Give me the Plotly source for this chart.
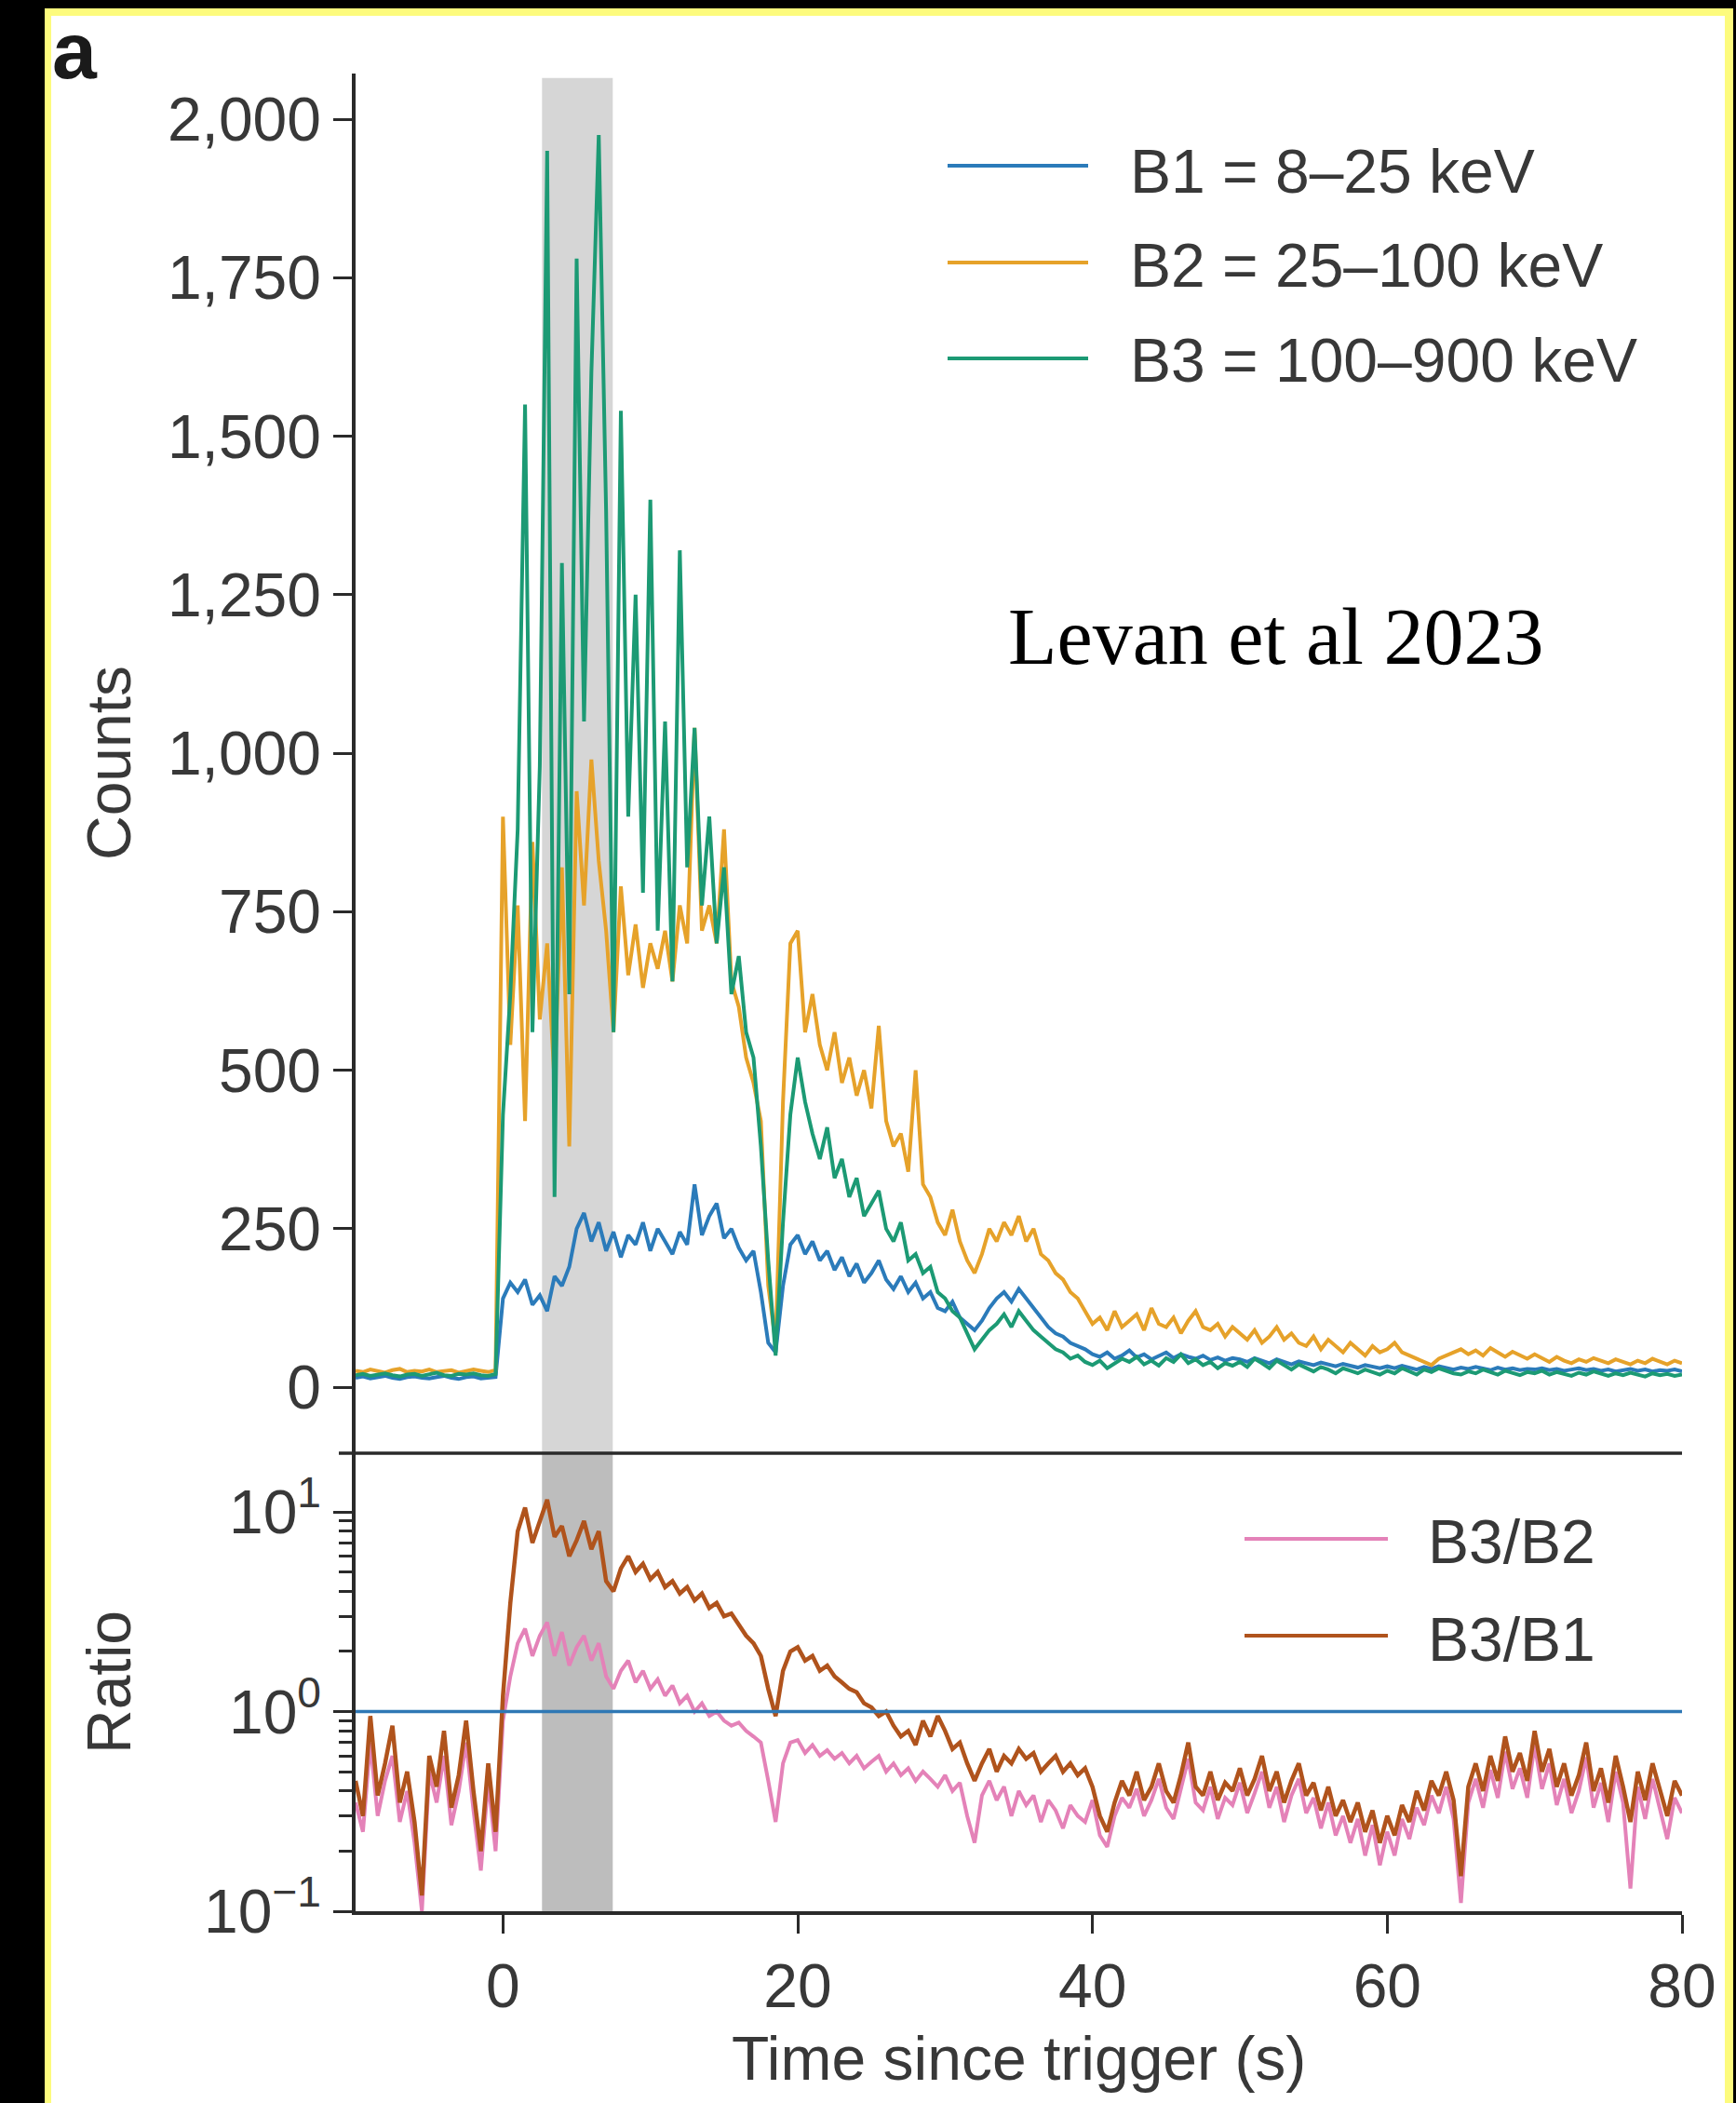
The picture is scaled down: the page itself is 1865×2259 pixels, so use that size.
import plotly.graph_objects as go

# ---------------------------------------------------------------------------
# Light curve binned at 0.5 s, from -10 s to 80 s after trigger
# ---------------------------------------------------------------------------
TIME = [round(-10 + 0.5 * i, 1) for i in range(181)]

# B1 = 8-25 keV counts
B1_COUNTS = [
    15, 17, 14, 16, 18, 15, 13, 16, 17, 15, 14, 16, 18, 15, 13, 16, 17, 14, 15, 16,          # -10 .. -0.5
    140, 165, 150, 170, 130, 145, 120, 175, 160, 190, 250, 275, 230, 260, 215, 245, 205, 240, 225, 260,  # 0 .. 9.5
    215, 250, 230, 210, 245, 225, 320, 240, 270, 290, 235, 250, 220, 200, 215, 150, 70, 55, 160, 225,    # 10 .. 19.5
    240, 210, 230, 200, 215, 185, 205, 175, 195, 165, 180, 200, 170, 155, 175, 150, 165, 140, 150, 125,  # 20 .. 29.5
    120, 135, 110, 100, 90, 105, 125, 140, 150, 135, 155, 140, 125, 110, 95, 85, 80, 70, 65, 60,         # 30 .. 39.5
    52, 48, 55, 45, 50, 58, 47, 52, 44, 50, 55, 46, 52, 48, 45, 50, 43, 47, 42, 46,                      # 40 .. 49.5
    44, 40, 46, 42, 38, 44, 40, 36, 41, 38, 35, 39, 36, 33, 37, 34, 31, 35, 32, 30,                      # 50 .. 59.5
    33, 30, 34, 31, 28, 32, 29, 33, 30, 28, 31, 29, 32, 30, 27, 31, 28, 30, 27, 29,                      # 60 .. 69.5
    28, 30, 27, 29, 26, 28, 30, 27, 29, 26, 28, 25, 27, 29, 26, 28, 25, 27, 26, 28, 25,                  # 70 .. 80
]

# B2 = 25-100 keV counts
B2_COUNTS = [
    26, 24, 28, 25, 23, 27, 29, 24, 26, 25, 28, 24, 26, 27, 23, 25, 28, 26, 24, 27,
    900, 540, 760, 420, 860, 580, 700, 480, 820, 380, 940, 760, 990, 830, 720, 560, 790, 650, 730, 630,
    700, 660, 720, 640, 760, 700, 1040, 720, 760, 700, 880, 640, 600, 520, 480, 420, 160, 70, 450, 700,
    720, 560, 620, 540, 500, 560, 480, 520, 460, 500, 440, 570, 420, 380, 400, 340, 500, 320, 300, 260,
    240, 280, 230, 200, 180, 210, 250, 230, 260, 240, 270, 230, 250, 210, 200, 180, 170, 150, 140, 120,
    100, 110, 90, 120, 95, 105, 115, 90, 125, 100, 95, 110, 85, 105, 120, 95, 90, 100, 80, 95,
    85, 75, 90, 70, 80, 95, 75, 85, 70, 65, 80, 60, 75, 65, 55, 70, 60, 50, 65, 55,
    60, 70, 55, 50, 45, 40, 35, 45, 50, 55, 60, 52, 58, 50, 62, 55, 48, 56, 50, 45,
    52, 46, 40, 48, 42, 38, 44, 40, 46, 42, 38, 44, 40, 36, 42, 38, 45, 40, 36, 42, 38,
]

# B3 = 100-900 keV counts
B3_COUNTS = [
    19, 21, 18, 20, 22, 19, 17, 20, 21, 18, 20, 23, 19, 18, 21, 20, 22, 19, 18, 21,
    430, 620, 880, 1550, 560, 980, 1950, 300, 1300, 620, 1780, 1050, 1600, 1975, 1380, 560, 1540, 900, 1250, 780,
    1400, 720, 1050, 640, 1320, 820, 1040, 760, 900, 700, 820, 620, 680, 560, 520, 380, 200, 50, 260, 430,
    520, 450, 400, 360, 410, 330, 360, 300, 330, 270, 290, 310, 250, 230, 260, 200, 210, 180, 190, 150,
    140, 120, 110, 85, 60, 75, 90, 100, 115, 95, 120, 105, 90, 80, 70, 60, 55, 45, 50, 40,
    35, 42, 30, 38, 45, 40, 48, 36, 42, 34, 46, 40, 52, 38, 44, 35, 40, 30, 38, 34,
    40, 32, 45, 38, 30, 42, 35, 28, 36, 30, 25, 32, 28, 22, 30, 26, 22, 28, 24, 20,
    26, 22, 30, 25, 20, 28, 24, 30, 26, 22, 20, 25, 22, 28, 24, 20, 26, 22, 19, 24,
    22, 26, 20, 24, 21, 18, 23, 20, 25, 21, 18, 22, 19, 23, 20, 17, 22, 19, 21, 18, 20,
]

# Hardness ratios
RATIO_B3_B2 = [
    0.35, 0.25, 0.70, 0.30, 0.45, 0.60, 0.28, 0.40, 0.22, 0.10, 0.50, 0.35, 0.60, 0.27, 0.40, 0.70, 0.32, 0.16, 0.45, 0.20,
    0.90, 1.50, 2.20, 2.60, 1.90, 2.40, 2.80, 1.90, 2.50, 1.70, 2.10, 2.40, 1.80, 2.20, 1.50, 1.30, 1.60, 1.80, 1.40, 1.60,
    1.30, 1.45, 1.20, 1.35, 1.10, 1.20, 1.00, 1.10, 0.95, 1.00, 0.90, 0.85, 0.88, 0.80, 0.75, 0.70, 0.45, 0.28, 0.55, 0.70,
    0.72, 0.62, 0.68, 0.60, 0.64, 0.58, 0.62, 0.55, 0.60, 0.52, 0.56, 0.60, 0.50, 0.55, 0.48, 0.52, 0.45, 0.50, 0.46, 0.42,
    0.48, 0.40, 0.44, 0.30, 0.22, 0.38, 0.45, 0.36, 0.42, 0.30, 0.40, 0.34, 0.38, 0.28, 0.36, 0.32, 0.26, 0.34, 0.30, 0.28,
    0.36, 0.24, 0.21, 0.30, 0.37, 0.33, 0.41, 0.30, 0.36, 0.46, 0.33, 0.29, 0.41, 0.58, 0.35, 0.32, 0.42, 0.29, 0.37, 0.34,
    0.44, 0.31, 0.39, 0.50, 0.33, 0.42, 0.28, 0.38, 0.46, 0.31, 0.37, 0.26, 0.35, 0.24, 0.30, 0.22, 0.29, 0.19, 0.27, 0.17,
    0.25, 0.19, 0.29, 0.23, 0.33, 0.27, 0.38, 0.31, 0.42, 0.29, 0.11, 0.35, 0.46, 0.33, 0.51, 0.37, 0.63, 0.41, 0.52, 0.37,
    0.68, 0.41, 0.55, 0.34, 0.46, 0.31, 0.40, 0.59, 0.33, 0.44, 0.28, 0.50, 0.35, 0.13, 0.42, 0.29, 0.46, 0.33, 0.23, 0.37, 0.31,
]

RATIO_B3_B1 = [
    0.45, 0.30, 0.95, 0.38, 0.55, 0.85, 0.35, 0.50, 0.28, 0.12, 0.60, 0.42, 0.80, 0.33, 0.48, 0.90, 0.40, 0.20, 0.55, 0.25,
    1.20, 3.50, 8.00, 10.5, 7.00, 9.00, 11.5, 7.50, 8.50, 6.00, 7.20, 9.00, 6.50, 8.00, 4.50, 4.00, 5.20, 6.00, 5.00, 5.50,
    4.60, 5.00, 4.20, 4.50, 3.90, 4.20, 3.60, 3.90, 3.30, 3.50, 3.00, 3.10, 2.70, 2.40, 2.20, 1.90, 1.30, 0.95, 1.60, 2.00,
    2.10, 1.80, 1.90, 1.60, 1.70, 1.50, 1.40, 1.30, 1.25, 1.10, 1.05, 0.95, 1.00, 0.85, 0.75, 0.80, 0.68, 0.90, 0.75, 0.95,
    0.80, 0.65, 0.70, 0.55, 0.45, 0.55, 0.65, 0.50, 0.60, 0.55, 0.65, 0.58, 0.62, 0.50, 0.55, 0.60, 0.50, 0.55, 0.48, 0.52,
    0.42, 0.30, 0.25, 0.35, 0.45, 0.38, 0.50, 0.36, 0.42, 0.55, 0.40, 0.35, 0.48, 0.70, 0.42, 0.38, 0.50, 0.36, 0.44, 0.40,
    0.52, 0.38, 0.46, 0.60, 0.40, 0.50, 0.35, 0.45, 0.55, 0.38, 0.44, 0.32, 0.42, 0.30, 0.36, 0.28, 0.35, 0.25, 0.32, 0.22,
    0.30, 0.24, 0.34, 0.28, 0.40, 0.32, 0.45, 0.38, 0.50, 0.36, 0.15, 0.42, 0.55, 0.40, 0.60, 0.45, 0.75, 0.50, 0.62, 0.45,
    0.80, 0.50, 0.65, 0.42, 0.55, 0.38, 0.48, 0.70, 0.40, 0.52, 0.35, 0.60, 0.42, 0.28, 0.50, 0.36, 0.55, 0.40, 0.30, 0.45, 0.38,
]

for series in (B1_COUNTS, B2_COUNTS, B3_COUNTS, RATIO_B3_B2, RATIO_B3_B1):
    assert len(series) == len(TIME), len(series)

Y_TICKS = [0, 250, 500, 750, 1000, 1250, 1500, 1750, 2000]
X_TICKS = [0, 20, 40, 60, 80]
RATIO_TICKS = [0.1, 1, 10]
RATIO_TICK_TEXT = ["10<sup>\u22121</sup>", "10<sup>0</sup>", "10<sup>1</sup>"]
RATIO_MINOR = [0.2, 0.3, 0.4, 0.5, 0.6, 0.7, 0.8, 0.9, 2, 3, 4, 5, 6, 7, 8, 9]
HIGHLIGHT = (2.65, 7.45)   # interval marked by the grey band (s)

C_B1 = "#2b7bba"
C_B2 = "#e6a22a"
C_B3 = "#1c9a74"
C_R32 = "#e482b8"
C_R31 = "#b0531c"
C_UNITY = "#2f78b5"
AXIS = "#2a2a2a"
TXT = "#383838"
SANS = "Liberation Sans, Arial, Helvetica, sans-serif"

# ---------------------------------------------------------------------------
# Page geometry (pixels)
# ---------------------------------------------------------------------------
FIG_W, FIG_H = 1865, 2259
L, R, T, B = 382, 1807, 79, 2053
SPLIT = 1561
PW, PH = R - L, B - T


def fx(px):
    return (px - L) / PW


def fy(py):
    return (B - py) / PH


split_frac = fy(SPLIT)

fig = go.Figure()

# Upper panel: counts
for y, c, name in ((B1_COUNTS, C_B1, "B1"), (B2_COUNTS, C_B2, "B2"), (B3_COUNTS, C_B3, "B3")):
    fig.add_trace(go.Scatter(x=TIME, y=y, mode="lines", name=name,
                             line=dict(color=c, width=4), xaxis="x", yaxis="y",
                             showlegend=False))

# Lower panel: ratios
fig.add_trace(go.Scatter(x=TIME, y=RATIO_B3_B2, mode="lines", name="B3/B2",
                         line=dict(color=C_R32, width=4), xaxis="x2", yaxis="y2",
                         showlegend=False))
fig.add_trace(go.Scatter(x=TIME, y=RATIO_B3_B1, mode="lines", name="B3/B1",
                         line=dict(color=C_R31, width=4.5), xaxis="x2", yaxis="y2",
                         showlegend=False))
fig.add_trace(go.Scatter(x=[-10, 80], y=[1, 1], mode="lines", name="unity",
                         line=dict(color=C_UNITY, width=3.5), xaxis="x2", yaxis="y2",
                         showlegend=False))

shapes = [
    # page frame
    dict(type="rect", xref="paper", yref="paper", layer="below",
         x0=fx(48), x1=fx(1862), y0=fy(2300), y1=fy(9),
         fillcolor="#fdfb7d", line=dict(width=0)),
    dict(type="rect", xref="paper", yref="paper", layer="below",
         x0=fx(55), x1=fx(1853), y0=fy(2300), y1=fy(17),
         fillcolor="white", line=dict(width=0)),
    # highlighted interval
    dict(type="rect", xref="x", yref="y", layer="below",
         x0=HIGHLIGHT[0], x1=HIGHLIGHT[1], y0=-104, y1=2065,
         fillcolor="#d6d6d6", line=dict(width=0)),
    dict(type="rect", xref="x2", yref="y2 domain", layer="below",
         x0=HIGHLIGHT[0], x1=HIGHLIGHT[1], y0=0, y1=1,
         fillcolor="#bdbdbd", line=dict(width=0)),
    # panel separator
    dict(type="line", xref="paper", yref="paper",
         x0=fx(364), x1=fx(1807), y0=split_frac, y1=split_frac,
         line=dict(color=AXIS, width=3.5)),
]

annotations = []

# legends (upper and lower panels)
legend_rows = [
    (178, 184, C_B1, "B1 = 8\u201325 keV", 1018, 1169, 1212),
    (282, 285, C_B2, "B2 = 25\u2013100 keV", 1018, 1169, 1212),
    (385, 387, C_B3, "B3 = 100\u2013900 keV", 1018, 1169, 1212),
    (1653, 1656, C_R32, "B3/B2", 1337, 1491, 1532),
    (1757, 1761, C_R31, "B3/B1", 1337, 1491, 1532),
]
for ly, ty, col, label, lx0, lx1, tx in legend_rows:
    shapes.append(dict(type="line", xref="paper", yref="paper",
                       x0=fx(lx0), x1=fx(lx1), y0=fy(ly), y1=fy(ly),
                       line=dict(color=col, width=4)))
    annotations.append(dict(text=label, xref="paper", yref="paper",
                            x=fx(tx), y=fy(ty), xanchor="left", yanchor="middle",
                            showarrow=False, font=dict(family=SANS, size=66, color=TXT)))

# panel letter
annotations.append(dict(text="<b>a</b>", xref="paper", yref="paper",
                        x=fx(80), y=fy(54), xanchor="center", yanchor="middle",
                        showarrow=False, font=dict(family=SANS, size=86, color="#1a1a1a")))
# axis titles
annotations.append(dict(text="Counts", xref="paper", yref="paper",
                        x=fx(117), y=fy(820), xanchor="center", yanchor="middle",
                        textangle=-90, showarrow=False,
                        font=dict(family=SANS, size=66, color=TXT)))
annotations.append(dict(text="Ratio", xref="paper", yref="paper",
                        x=fx(117), y=fy(1807), xanchor="center", yanchor="middle",
                        textangle=-90, showarrow=False,
                        font=dict(family=SANS, size=66, color=TXT)))
annotations.append(dict(text="Time since trigger (s)", xref="paper", yref="paper",
                        x=fx(1094), y=fy(2211), xanchor="center", yanchor="middle",
                        showarrow=False, font=dict(family=SANS, size=66, color=TXT)))
# citation
annotations.append(dict(text="Levan et al 2023", xref="paper", yref="paper",
                        x=fx(1371), y=fy(684), xanchor="center", yanchor="middle",
                        showarrow=False,
                        font=dict(family="Liberation Serif, Times New Roman, serif",
                                  size=86, color="black")))

tick_font = dict(family=SANS, size=66, color=TXT)

fig.update_layout(
    template="none",
    width=FIG_W, height=FIG_H,
    margin=dict(l=L, r=FIG_W - R, t=T, b=FIG_H - B, pad=0),
    paper_bgcolor="black",
    plot_bgcolor="rgba(0,0,0,0)",
    showlegend=False,
    shapes=shapes,
    annotations=annotations,
    xaxis=dict(domain=[0, 1], anchor="y", range=[-10, 80], showticklabels=False,
               ticks="", showline=False, showgrid=False, zeroline=False),
    yaxis=dict(domain=[split_frac, 1], anchor="x", range=[-104, 2072],
               tickmode="array", tickvals=Y_TICKS, tickformat=",",
               ticks="outside", ticklen=20, tickwidth=3, tickcolor=AXIS,
               showline=True, linewidth=3.5, linecolor=AXIS,
               showgrid=False, zeroline=False, tickfont=tick_font),
    xaxis2=dict(domain=[0, 1], anchor="y2", range=[-10, 80],
                tickmode="array", tickvals=X_TICKS,
                ticks="outside", ticklen=20, tickwidth=3, tickcolor=AXIS,
                showline=True, linewidth=3.5, linecolor=AXIS,
                showgrid=False, zeroline=False, tickfont=tick_font),
    yaxis2=dict(domain=[0, split_frac], anchor="x2", type="log", range=[-1, 1.294],
                tickmode="array", tickvals=RATIO_TICKS, ticktext=RATIO_TICK_TEXT,
                ticks="outside", ticklen=20, tickwidth=3, tickcolor=AXIS,
                minor=dict(tickmode="array", tickvals=RATIO_MINOR, ticks="outside",
                           ticklen=14, tickwidth=2.5, tickcolor=AXIS, showgrid=False),
                showline=True, linewidth=3.5, linecolor=AXIS,
                showgrid=False, zeroline=False, tickfont=tick_font),
)

fig.write_html("out.html")
